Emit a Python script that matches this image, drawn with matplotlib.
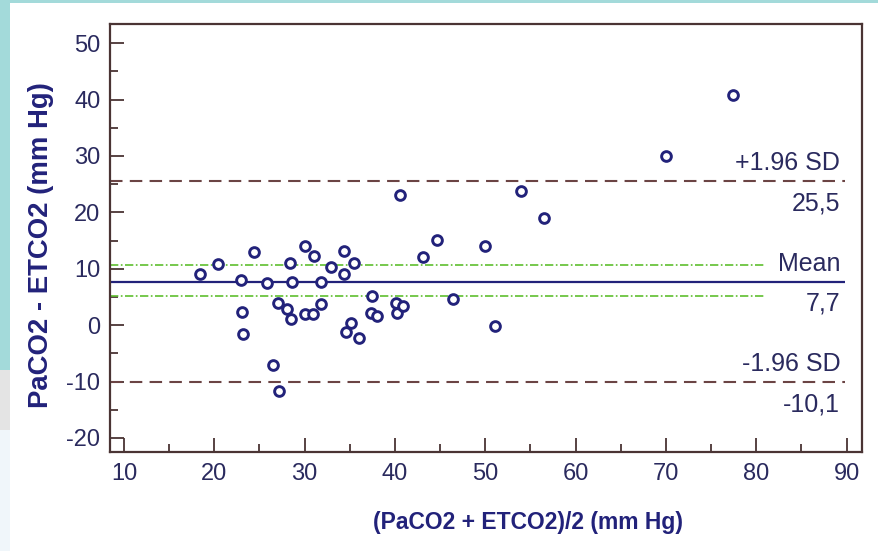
import matplotlib.pyplot as plt
from matplotlib.patches import Rectangle

# Bland-Altman data: mean of the two methods vs. difference
mean_vals = [18.4, 20.4, 24.4, 23.0, 23.1, 23.2, 25.8, 26.5, 27.2, 27.0,
             28.0, 28.4, 28.6, 28.5, 30.0, 30.0, 31.0, 30.9, 31.8, 31.8,
             32.9, 34.4, 34.4, 34.6, 35.1, 35.5, 36.0, 37.5, 37.3, 38.0,
             40.1, 40.2, 40.9, 40.6, 43.1, 44.6, 46.4, 50.0, 51.1, 54.0,
             56.5, 70.0, 77.4]
diff_vals = [9.0, 10.8, 12.9, 8.0, 2.3, -1.6, 7.4, -7.0, -11.7, 4.0,
             2.8, 11.0, 7.6, 1.0, 14.0, 2.0, 12.2, 2.0, 7.6, 3.7,
             10.3, 13.1, 9.0, -1.2, 0.3, 11.0, -2.2, 5.1, 2.2, 1.6,
             4.0, 2.1, 3.4, 23.0, 12.0, 15.1, 4.6, 14.1, -0.1, 23.7,
             19.0, 30.0, 40.8]

bias = 7.7
upper_loa = 25.5
lower_loa = -10.1
ci_bias = [10.6, 5.1]

xticks = [10, 20, 30, 40, 50, 60, 70, 80, 90]
yticks = [-20, -10, 0, 10, 20, 30, 40, 50]

navy = "#22227a"
spine_col = "#4a3434"
dash_col = "#6b4444"
green = "#5fbf2f"
text_col = "#2a2a5e"

plt.rcParams['font.family'] = ['Liberation Sans', 'DejaVu Sans']
plt.rcParams['axes.unicode_minus'] = False

fig = plt.figure(figsize=(8.79, 5.51), dpi=100, facecolor="white")

# page background pieces around the chart card
fig.patches.append(Rectangle((0, 0), 1, 1, transform=fig.transFigure,
                             facecolor="white", edgecolor="none", zorder=-10))
fig.patches.append(Rectangle((0, 1 - 370 / 551), 10 / 879, 370 / 551, transform=fig.transFigure,
                             facecolor="#a3dada", edgecolor="none", zorder=-9))
fig.patches.append(Rectangle((0, 1 - 3 / 551), 1, 3 / 551, transform=fig.transFigure,
                             facecolor="#a3dada", edgecolor="none", zorder=-9))
fig.patches.append(Rectangle((0, 1 - 430 / 551), 10 / 879, 60 / 551, transform=fig.transFigure,
                             facecolor="#e4e4e4", edgecolor="none", zorder=-9))
fig.patches.append(Rectangle((0, 0), 10 / 879, 121 / 551, transform=fig.transFigure,
                             facecolor="#f0f6fa", edgecolor="none", zorder=-9))

ax = fig.add_axes([110 / 879, 1 - 452 / 551, 752 / 879, 428 / 551])
ax.set_xlim(8.45, 91.7)
ax.set_ylim(-22.5, 53.4)

# limits of agreement and mean
ax.hlines([upper_loa, lower_loa], 8.45, 89.8, colors=dash_col, linestyles=(0, (6, 3.5)), lw=1.5, zorder=2)
ax.hlines(bias, 8.45, 89.8, colors=navy, lw=1.6, zorder=2)
ax.hlines(ci_bias, 8.45, 81.0, colors=green, linestyles=(0, (5, 1.5, 1, 1.5)), lw=1.2, zorder=2)

ax.plot(mean_vals, diff_vals, linestyle="none", marker="o", markersize=7,
        markerfacecolor="white", markeredgecolor=navy, markeredgewidth=2.1, zorder=3)

labels = [(upper_loa, "+1.96 SD", "25,5"), (bias, "Mean", "7,7"), (lower_loa, "-1.96 SD", "-10,1")]
for yv, top_txt, bot_txt in labels:
    ax.annotate(top_txt, (89.3, yv), xytext=(0, 13), textcoords="offset points",
                ha="right", va="center", fontsize=18, color=text_col)
    ax.annotate(bot_txt, (89.3, yv), xytext=(0, -16), textcoords="offset points",
                ha="right", va="center", fontsize=18, color=text_col)

ax.set_xticks(xticks)
ax.set_yticks(yticks)
ax.set_xticks([15, 25, 35, 45, 55, 65, 75, 85], minor=True)
ax.set_yticks([-15, -5, 5, 15, 25, 35, 45], minor=True)
ax.tick_params(which="both", direction="in", colors=spine_col, labelcolor=text_col,
               labelsize=17, top=False, right=False)
ax.tick_params(which="major", length=10, width=1.3)
ax.tick_params(which="minor", length=6, width=1.3)
ax.tick_params(axis="x", pad=8)
ax.tick_params(axis="y", pad=7)

for s in ax.spines.values():
    s.set_color(spine_col)
    s.set_linewidth(1.6)

ax.set_xlabel("(PaCO2 + ETCO2)/2 (mm Hg)", fontsize=16.5, fontweight="bold", color=navy)
ax.set_ylabel("PaCO2 - ETCO2 (mm Hg)", fontsize=19.8, fontweight="bold", color=navy)
ax.xaxis.set_label_coords((528 - 110) / 752, (452 - 511) / 428)
ax.yaxis.set_label_coords((54 - 110) / 752, (452 - 245) / 428)

fig.savefig("out.png", dpi=100)
